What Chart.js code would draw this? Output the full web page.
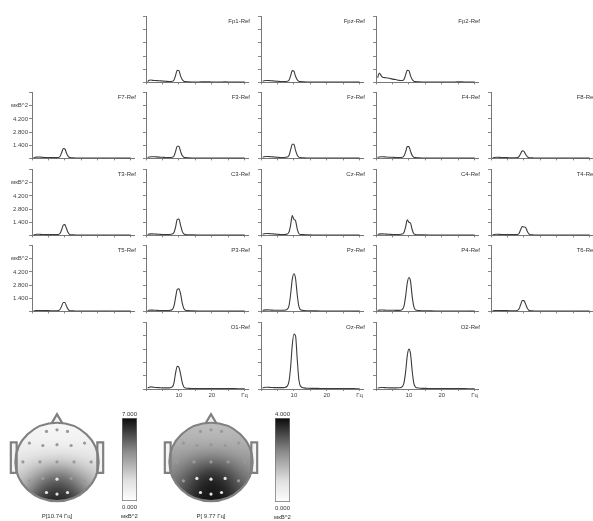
<!DOCTYPE html>
<html><head><meta charset="utf-8">
<script src="https://cdn.jsdelivr.net/npm/chart.js@4.4.1/dist/chart.umd.min.js"></script>
<style>
html,body{margin:0;padding:0;background:#fff;width:593px;height:521px;overflow:hidden;position:relative}
canvas{position:absolute}
</style></head><body>
<script>
// ---------- DATA ----------
const freq = [0.5,1,1.5,2,3,4,5,6,7,8,8.5,9,9.5,10,10.5,11,11.5,12,13,14,16,18,20,22,24,26,28,30];
const powFp1 = [0.10,0.22,0.25,0.22,0.2,0.18,0.15,0.12,0.1,0.12,0.25,0.75,1.3,1.25,0.7,0.3,0.12,0.08,0.06,0.05,0.05,0.06,0.05,0.04,0.06,0.04,0.03,0.03];
const powFpz = [0.12,0.18,0.2,0.2,0.18,0.15,0.12,0.1,0.1,0.12,0.22,0.7,1.25,1.2,0.65,0.28,0.12,0.08,0.06,0.05,0.05,0.05,0.05,0.04,0.05,0.04,0.03,0.03];
const powFp2 = [0.5,1.0,0.75,0.55,0.5,0.45,0.35,0.3,0.22,0.2,0.3,0.8,1.3,1.25,0.7,0.3,0.12,0.08,0.06,0.05,0.05,0.05,0.05,0.04,0.05,0.06,0.03,0.03];
const powF7  = [0.08,0.12,0.14,0.15,0.12,0.1,0.1,0.08,0.08,0.1,0.2,0.6,1.05,1.0,0.55,0.22,0.1,0.07,0.05,0.04,0.04,0.04,0.04,0.03,0.04,0.03,0.03,0.03];
const powF3  = [0.1,0.15,0.18,0.18,0.16,0.14,0.12,0.1,0.1,0.12,0.25,0.75,1.3,1.3,0.75,0.3,0.12,0.08,0.06,0.05,0.05,0.05,0.04,0.04,0.04,0.03,0.03,0.03];
const powFz  = [0.12,0.18,0.2,0.2,0.18,0.15,0.12,0.1,0.1,0.14,0.3,0.9,1.5,1.5,0.85,0.35,0.14,0.09,0.06,0.05,0.05,0.05,0.04,0.04,0.04,0.03,0.03,0.03];
const powF4  = [0.1,0.15,0.18,0.18,0.15,0.13,0.12,0.1,0.1,0.12,0.25,0.7,1.25,1.25,0.75,0.3,0.12,0.08,0.06,0.05,0.05,0.05,0.04,0.04,0.04,0.03,0.03,0.03];
const powF8  = [0.06,0.1,0.12,0.12,0.1,0.08,0.08,0.07,0.07,0.1,0.2,0.5,0.8,0.75,0.45,0.2,0.08,0.06,0.05,0.04,0.04,0.04,0.04,0.03,0.04,0.03,0.03,0.03];
const powT3  = [0.06,0.1,0.12,0.12,0.1,0.09,0.08,0.08,0.08,0.1,0.2,0.6,1.1,1.15,0.7,0.28,0.1,0.07,0.05,0.04,0.04,0.04,0.04,0.03,0.04,0.03,0.03,0.03];
const powC3  = [0.1,0.14,0.16,0.16,0.14,0.12,0.1,0.1,0.1,0.14,0.3,0.9,1.7,1.75,1.1,0.45,0.16,0.1,0.07,0.06,0.05,0.05,0.05,0.04,0.04,0.03,0.03,0.03];
const powCz  = [0.12,0.18,0.2,0.2,0.18,0.15,0.12,0.1,0.1,0.15,0.35,1.1,2.1,1.7,1.55,0.7,0.2,0.1,0.08,0.06,0.05,0.05,0.05,0.04,0.04,0.03,0.03,0.03];
const powC4  = [0.1,0.14,0.16,0.16,0.14,0.12,0.1,0.1,0.1,0.14,0.3,0.9,1.65,1.4,1.3,0.6,0.18,0.1,0.07,0.06,0.05,0.05,0.05,0.04,0.04,0.03,0.03,0.03];
const powT4  = [0.06,0.1,0.12,0.12,0.1,0.09,0.08,0.08,0.08,0.1,0.2,0.6,0.95,0.9,0.85,0.45,0.15,0.07,0.05,0.04,0.04,0.04,0.04,0.03,0.04,0.03,0.03,0.03];
const powT5  = [0.06,0.08,0.1,0.1,0.09,0.08,0.08,0.07,0.07,0.1,0.2,0.55,0.95,0.95,0.55,0.22,0.08,0.06,0.05,0.04,0.04,0.04,0.04,0.03,0.04,0.03,0.03,0.03];
const powP3  = [0.08,0.12,0.14,0.14,0.12,0.1,0.1,0.1,0.1,0.2,0.55,1.5,2.35,2.4,1.9,0.9,0.3,0.12,0.08,0.06,0.05,0.05,0.05,0.04,0.04,0.03,0.03,0.03];
const powPz  = [0.1,0.14,0.16,0.16,0.14,0.12,0.12,0.12,0.12,0.25,0.6,1.8,3.4,4.0,3.5,1.8,0.55,0.18,0.1,0.07,0.06,0.05,0.05,0.04,0.04,0.04,0.03,0.03];
const powP4  = [0.1,0.14,0.15,0.15,0.13,0.12,0.12,0.11,0.11,0.22,0.55,1.6,3.0,3.6,3.2,1.6,0.5,0.16,0.09,0.07,0.06,0.05,0.05,0.04,0.04,0.04,0.03,0.03];
const powT6  = [0.06,0.08,0.1,0.1,0.09,0.08,0.08,0.07,0.07,0.1,0.25,0.7,1.15,1.15,0.8,0.35,0.12,0.06,0.05,0.04,0.04,0.04,0.04,0.03,0.04,0.03,0.03,0.03];
const powO1  = [0.1,0.18,0.22,0.2,0.16,0.14,0.12,0.12,0.12,0.22,0.65,1.7,2.4,2.3,1.6,0.7,0.22,0.1,0.07,0.06,0.05,0.05,0.05,0.04,0.04,0.04,0.03,0.03];
const powOz  = [0.12,0.16,0.18,0.18,0.16,0.14,0.14,0.14,0.15,0.3,0.8,2.3,4.6,5.8,5.6,3.2,1.0,0.3,0.12,0.08,0.07,0.06,0.05,0.05,0.04,0.04,0.04,0.03];
const powO2  = [0.1,0.14,0.16,0.16,0.14,0.12,0.12,0.12,0.13,0.25,0.65,1.8,3.5,4.2,3.7,1.9,0.6,0.2,0.1,0.07,0.06,0.05,0.05,0.04,0.04,0.04,0.03,0.03];

const yTickValues = [0,1.4,2.8,4.2,5.6,7];
const yTickLabels = ['','1.400','2.800','4.200','мкВ^2',''];
const xTickValues = [0,5,10,15,20,25,30];
const xTickLabels = ['','','10','','20','','Гц'];

const channels = ['Fp1','Fpz','Fp2','F7','F3','Fz','F4','F8','T3','C3','Cz','C4','T4','T5','P3','Pz','P4','T6','O1','Oz','O2'];
const spectra = {Fp1:powFp1,Fpz:powFpz,Fp2:powFp2,F7:powF7,F3:powF3,Fz:powFz,F4:powF4,F8:powF8,
  T3:powT3,C3:powC3,Cz:powCz,C4:powC4,T4:powT4,T5:powT5,P3:powP3,Pz:powPz,P4:powP4,T6:powT6,O1:powO1,Oz:powOz,O2:powO2};

// electrode coordinates on the unit head (same order as channels)
const electrodeX = [-0.253,0,0.253,-0.663,-0.34,0,0.34,0.663,-0.82,-0.41,0,0.41,0.82,-0.663,-0.34,0,0.34,0.663,-0.253,0,0.253];
const electrodeY = [0.78,0.82,0.78,0.482,0.42,0.44,0.42,0.482,0,0,0,0,0,-0.482,-0.42,-0.44,-0.42,-0.482,-0.78,-0.82,-0.78];
const topoValuesA = [0.2,0.2,0.2,0.3,0.4,0.4,0.4,0.3,0.6,1.0,1.3,1.0,0.6,1.6,3.2,4.5,3.6,1.8,6.0,7.0,5.8];
const topoValuesB = [1.0,0.9,1.0,1.1,1.3,1.4,1.3,1.1,1.5,2.0,2.4,2.0,1.5,2.0,3.2,4.0,3.4,2.0,3.4,4.0,3.6];
const topoMaxA = 7, topoMaxB = 4;
const topoTitles = ['P[10.74 Гц]','P[ 9.77 Гц]'];
const colorbarLabelsA = ['7.000','0.000','мкВ^2'];
const colorbarLabelsB = ['4.000','0.000','мкВ^2'];

// ---------- LAYOUT ----------
const gridCells = [['Fp1',0,1],['Fpz',0,2],['Fp2',0,3],
  ['F7',1,0],['F3',1,1],['Fz',1,2],['F4',1,3],['F8',1,4],
  ['T3',2,0],['C3',2,1],['Cz',2,2],['C4',2,3],['T4',2,4],
  ['T5',3,0],['P3',3,1],['Pz',3,2],['P4',3,3],['T6',3,4],
  ['O1',4,1],['Oz',4,2],['O2',4,3]];
const COL_X = [32,146,261,376,491];
const PANEL_H = 69, PLOT_W = 102;
const FONT = "'Liberation Sans', Arial, sans-serif";
Chart.defaults.font.family = FONT;
Chart.defaults.font.size = 6;
Chart.defaults.color = '#444';

function mount(left, top, w, h){
  const c = document.createElement('canvas');
  c.width = w; c.height = h;
  c.style.left = left+'px'; c.style.top = top+'px';
  c.style.width = w+'px'; c.style.height = h+'px';
  document.body.appendChild(c);
  return c;
}
const baseOpts = {responsive:false, animation:false, devicePixelRatio:1, events:[],
  plugins:{legend:{display:false}, tooltip:{enabled:false}, title:{display:false}}};

function makePanel(name,row,col){
  const axisX = COL_X[col];
  const base = Math.round(82.5 + 76.5*row);
  const top = base - PANEL_H;
  const yW = col===0 ? 30 : 5;
  const xLabels = row===4;
  const xH = xLabels ? 14 : 4;
  const padR = 12;
  const c = mount(axisX - yW, top - 2, yW + PLOT_W + padR, 2 + PANEL_H + xH);
  const vals = spectra[name];
  new Chart(c, {
    type:'line',
    data:{datasets:[{data:freq.map((f,i)=>({x:f,y:vals[i]})), borderColor:'#3c3c3c', borderWidth:1.1,
      pointRadius:0, cubicInterpolationMode:'monotone', fill:false}]},
    options:Object.assign({}, baseOpts, {
      layout:{padding:{left:0,right:padR,top:2,bottom:0}},
      scales:{
        x:{type:'linear', min:0, max:31,
          afterBuildTicks:s=>{s.ticks = xTickValues.map(v=>({value:v}));},
          afterFit:s=>{s.height = xH;},
          grid:{display:true, drawOnChartArea:false, drawTicks:true, tickLength:2, color:'#888'},
          border:{display:true, color:'#777', width:1},
          ticks:{autoSkip:false, maxRotation:0, padding:1, color:'#444', font:{size:6},
            callback:(v,i)=> xLabels ? xTickLabels[i] : ''}},
        y:{type:'linear', min:0, max:7,
          afterBuildTicks:s=>{s.ticks = yTickValues.map(v=>({value:v}));},
          afterFit:s=>{s.width = yW;},
          grid:{display:true, drawOnChartArea:false, drawTicks:true, tickLength:3, color:'#888'},
          border:{display:true, color:'#777', width:1},
          ticks:{autoSkip:false, padding:1, color:'#444', font:{size:6},
            callback:(v,i)=> col===0 ? yTickLabels[i] : ''}}
      }
    }),
    plugins:[{id:'lbl', afterDraw(ch){
      const a = ch.chartArea, ctx = ch.ctx;
      ctx.save(); ctx.font = '6px '+FONT; ctx.fillStyle = '#333';
      ctx.textAlign = 'right'; ctx.textBaseline = 'middle';
      ctx.fillText(name+'-Ref', a.right+2, a.top+5);
      ctx.restore();
    }}]
  });
}
gridCells.forEach(g=>makePanel(g[0],g[1],g[2]));

// ---------- TOPOMAPS ----------
function makeTopo(cx, cy, values, vmax, title){
  const PX = 43.2, PY = 40;
  const xmin=-1.25, xmax=1.25, ymin=-1.15, ymax=1.3;
  const W = Math.round((xmax-xmin)*PX), H = Math.round((ymax-ymin)*PY);
  const c = mount(Math.round(cx + xmin*PX - 2), Math.round(cy - ymax*PY - 2), W+4, H+2+18);
  new Chart(c, {
    type:'scatter',
    data:{datasets:[{data:electrodeX.map((x,i)=>({x:x,y:electrodeY[i]})),
      pointRadius:1.6, pointBorderWidth:0,
      pointBackgroundColor:electrodeX.map((x,i)=> values[i]/vmax > 0.6 ? '#e6e6e6' : '#999')}]},
    options:Object.assign({}, baseOpts, {
      layout:{padding:{left:2,right:2,top:2,bottom:18}},
      scales:{x:{type:'linear',min:xmin,max:xmax,display:false},
              y:{type:'linear',min:ymin,max:ymax,display:false}}
    }),
    plugins:[{id:'topo', beforeDatasetsDraw(ch){
      const {ctx, chartArea:a, scales:{x,y}} = ch;
      const w = Math.ceil(a.right-a.left), h = Math.ceil(a.bottom-a.top);
      const off = document.createElement('canvas'); off.width=w; off.height=h;
      const octx = off.getContext('2d'); const img = octx.createImageData(w,h);
      const s2 = 2*0.3*0.3;
      for(let py=0; py<h; py++){
        const dy = y.getValueForPixel(a.top+py+0.5);
        for(let px=0; px<w; px++){
          const dx = x.getValueForPixel(a.left+px+0.5);
          if(dx*dx+dy*dy > 1) continue;
          let sw=0, sv=0;
          for(let k=0;k<electrodeX.length;k++){
            const d2 = (dx-electrodeX[k])**2 + (dy-electrodeY[k])**2;
            const wt = Math.exp(-d2/s2); sw+=wt; sv+=wt*values[k];
          }
          const t = Math.min(1, Math.max(0, sv/sw/vmax));
          const g = Math.round(255*(1-t));
          const o = (py*w+px)*4;
          img.data[o]=g; img.data[o+1]=g; img.data[o+2]=g; img.data[o+3]=255;
        }
      }
      octx.putImageData(img,0,0);
      ctx.save();
      ctx.drawImage(off, a.left, a.top);
      const X = v=>x.getPixelForValue(v), Y = v=>y.getPixelForValue(v);
      ctx.strokeStyle = '#808080'; ctx.lineWidth = 2.2;
      [[-1.11,-0.97],[0.97,1.11]].forEach(e=>{
        ctx.beginPath();
        ctx.rect(X(e[0]), Y(0.5), X(e[1])-X(e[0]), Y(-0.28)-Y(0.5));
        ctx.fillStyle='#f4f4f4'; ctx.fill(); ctx.stroke();
      });
      ctx.beginPath(); ctx.moveTo(X(-0.13),Y(0.985)); ctx.lineTo(X(0),Y(1.22)); ctx.lineTo(X(0.13),Y(0.985));
      ctx.fillStyle='#f4f4f4'; ctx.fill(); ctx.stroke();
      ctx.beginPath();
      ctx.ellipse(X(0),Y(0),X(1)-X(0),Y(0)-Y(1),0,0,Math.PI*2);
      ctx.stroke();
      ctx.restore();
    }, afterDraw(ch){
      const {ctx, scales:{x,y}} = ch;
      ctx.save(); ctx.font='6px '+FONT; ctx.fillStyle='#333'; ctx.textAlign='center'; ctx.textBaseline='middle';
      ctx.fillText(title, x.getPixelForValue(0), y.getPixelForValue(-1.0)+15);
      ctx.restore();
    }}]
  });
}
makeTopo(57, 461, topoValuesA, topoMaxA, topoTitles[0]);
makeTopo(211, 461, topoValuesB, topoMaxB, topoTitles[1]);

// ---------- COLORBARS ----------
function makeColorbar(left, top, w, h, vmax, labels){
  const pl=12, pr=13, pt=12, pb=22;
  const c = mount(left-pl, top-pt, w+pl+pr, h+pt+pb);
  new Chart(c, {
    type:'bar',
    data:{labels:[''], datasets:[{data:[vmax], barPercentage:1, categoryPercentage:1,
      borderColor:'#707070', borderWidth:1, borderSkipped:false,
      backgroundColor:(cx)=>{
        const a = cx.chart.chartArea; if(!a) return '#888';
        const g = cx.chart.ctx.createLinearGradient(0,a.bottom,0,a.top);
        g.addColorStop(0,'#ffffff'); g.addColorStop(0.25,'#e0e0e0'); g.addColorStop(0.6,'#8a8a8a'); g.addColorStop(1,'#0a0a0a');
        return g;
      }}]},
    options:Object.assign({}, baseOpts, {
      layout:{padding:{left:pl,right:pr,top:pt,bottom:pb}},
      scales:{x:{display:false}, y:{min:0,max:vmax,display:false}}
    }),
    plugins:[{id:'cbl', afterDraw(ch){
      const {ctx, chartArea:a, scales:{y}} = ch; const mx=(a.left+a.right)/2;
      ctx.save(); ctx.font='6px '+FONT; ctx.fillStyle='#333'; ctx.textAlign='center'; ctx.textBaseline='middle';
      ctx.fillText(labels[0], mx, y.getPixelForValue(vmax)-4);
      ctx.fillText(labels[1], mx, y.getPixelForValue(0)+6);
      ctx.fillText(labels[2], mx, y.getPixelForValue(0)+15);
      ctx.restore();
    }}]
  });
}
makeColorbar(122, 418, 15, 83, topoMaxA, colorbarLabelsA);
makeColorbar(275, 418, 15, 84, topoMaxB, colorbarLabelsB);
</script>
</body></html>
